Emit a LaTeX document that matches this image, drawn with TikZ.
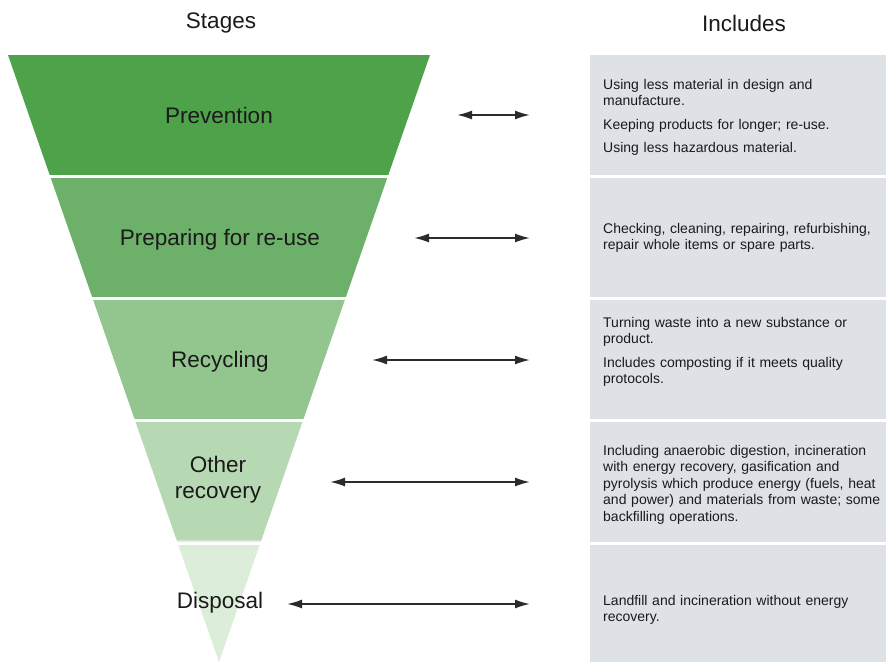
\documentclass[tikz,border=0pt]{standalone}
\usepackage{xcolor}
\usepackage{fontspec}
\setmainfont{Liberation Sans}
\usepackage{tikz}
\usetikzlibrary{positioning}
\usetikzlibrary{arrows.meta}
\usetikzlibrary{calc}

\definecolor{stageA}{HTML}{4EA24A}
\definecolor{stageB}{HTML}{6DB06A}
\definecolor{stageC}{HTML}{93C68F}
\definecolor{stageD}{HTML}{B6D8B2}
\definecolor{stageE}{HTML}{DCEDD9}
\definecolor{boxgray}{HTML}{DEE2E7}
\definecolor{inktext}{HTML}{1A1A1A}
\definecolor{inkarrow}{HTML}{2B2B2B}

\tikzset{
  headlabel/.style={font=\fontsize{22.5}{26}\selectfont, text=inktext},
  stagelabel/.style={font=\fontsize{22.5}{26}\selectfont, text=inktext, align=center},
  includetext/.style={font=\fontsize{14}{16.5}\selectfont, text=inktext, anchor=base west,
    inner sep=0pt, text width=282pt, align=left},
  linkarrow/.style={{Latex[length=15pt,width=9pt]}-{Latex[length=15pt,width=9pt]},
    line width=1.7pt, draw=inkarrow},
  gapline/.style={draw=white, line width=3pt}
}

\begin{document}
\begin{tikzpicture}[x=1pt,y=-1pt]
\useasboundingbox (0,0) rectangle (886,662);

% funnel corners
\coordinate (tl) at (8,55);
\coordinate (tr) at (430,55);
\coordinate (apex) at (219,662);

% stage bands
\fill[stageA] (tl) -- (tr) -- ($(tr)!0.2!(apex)$) -- ($(tl)!0.2!(apex)$) -- cycle;
\fill[stageB] ($(tl)!0.2!(apex)$) -- ($(tr)!0.2!(apex)$) -- ($(tr)!0.4!(apex)$) -- ($(tl)!0.4!(apex)$) -- cycle;
\fill[stageC] ($(tl)!0.4!(apex)$) -- ($(tr)!0.4!(apex)$) -- ($(tr)!0.6!(apex)$) -- ($(tl)!0.6!(apex)$) -- cycle;
\fill[stageD] ($(tl)!0.6!(apex)$) -- ($(tr)!0.6!(apex)$) -- ($(tr)!0.8!(apex)$) -- ($(tl)!0.8!(apex)$) -- cycle;
\fill[stageE] ($(tl)!0.8!(apex)$) -- ($(tr)!0.8!(apex)$) -- (apex) -- cycle;

% include column
\fill[boxgray] (590,55) rectangle (886,662);

% white gaps
\draw[gapline] (0,176.5) -- (886,176.5);
\draw[gapline] (0,298) -- (886,298);
\draw[gapline] (0,420.5) -- (886,420.5);
\draw[gapline] (0,543.5) -- (886,543.5);

% headings
\node[headlabel] (stages) at (221,23) {Stages};
\node[headlabel] (includes) at (744,23) {Includes};

% stage names
\node[stagelabel] (prevention) at (219,115) {Prevention};
\node[stagelabel] (reuse) at (220,240) {Preparing for re-use};
\node[stagelabel] (recycling) at (220,362) {Recycling};
\node[stagelabel] (recovery) at (218,480) {Other\\recovery};
\node[stagelabel] (disposal) at (220,603) {Disposal};

% what each stage includes
\node[includetext] (prevention-inc) at (603,89) {Using less material in design and\\manufacture.\\[7pt]Keeping products for longer; re-use.\\[7pt]Using less hazardous material.};
\node[includetext] (reuse-inc) at (603,233) {Checking, cleaning, repairing, refurbishing,\\repair whole items or spare parts.};
\node[includetext] (recycling-inc) at (603,327) {Turning waste into a new substance or\\product.\\[7pt]Includes composting if it meets quality\\protocols.};
\node[includetext] (recovery-inc) at (603,455) {Including anaerobic digestion, incineration\\with energy recovery, gasification and\\pyrolysis which produce energy (fuels, heat\\and power) and materials from waste; some\\backfilling operations.};
\node[includetext] (disposal-inc) at (603,605) {Landfill and incineration without energy\\recovery.};

% arrow ends
\coordinate (prevention-l) at (457,115);
\coordinate (prevention-r) at (530,115);
\coordinate (reuse-l) at (414,238);
\coordinate (reuse-r) at (530,238);
\coordinate (recycling-l) at (372,360);
\coordinate (recycling-r) at (530,360);
\coordinate (recovery-l) at (330,482);
\coordinate (recovery-r) at (530,482);
\coordinate (disposal-l) at (287,604);
\coordinate (disposal-r) at (530,604);

\draw[linkarrow] (prevention-l) -- (prevention-r);
\draw[linkarrow] (reuse-l) -- (reuse-r);
\draw[linkarrow] (recycling-l) -- (recycling-r);
\draw[linkarrow] (recovery-l) -- (recovery-r);
\draw[linkarrow] (disposal-l) -- (disposal-r);
\end{tikzpicture}
\end{document}
